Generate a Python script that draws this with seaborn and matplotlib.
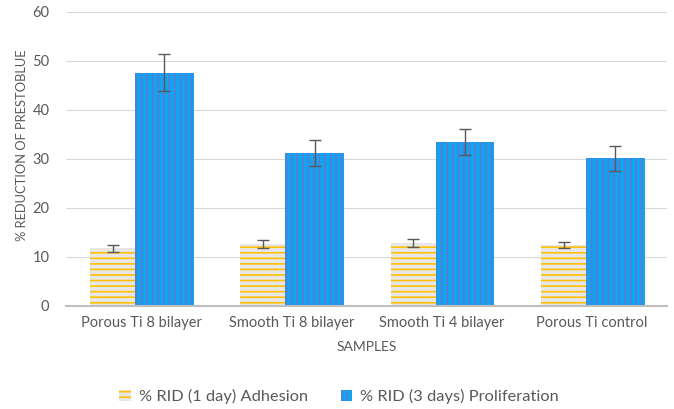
import matplotlib
matplotlib.use("Agg")
import matplotlib.pyplot as plt
import seaborn as sns
import pandas as pd
import numpy as np
from matplotlib.patches import Patch

samples = ["Porous Ti 8 bilayer", "Smooth Ti 8 bilayer", "Smooth Ti 4 bilayer", "Porous Ti control"]
series = ["% RID (1 day) Adhesion", "% RID (3 days) Proliferation"]
adhesion = [11.8, 12.7, 12.9, 12.4]
adhesion_err = [0.7, 0.8, 0.8, 0.6]
prolif = [47.6, 31.2, 33.4, 30.1]
prolif_err = [3.8, 2.6, 2.6, 2.5]

df = pd.DataFrame({
    "sample": samples * 2,
    "series": [series[0]] * 4 + [series[1]] * 4,
    "value": adhesion + prolif,
})

sns.set_theme(style="white")
plt.rcParams['font.family'] = ['Lato', 'DejaVu Sans']
plt.rcParams['hatch.linewidth'] = 1.2

fig = plt.figure(figsize=(6.74, 4.09), dpi=100)
ax = fig.add_axes([0.098, 0.252, 0.892, 0.719])

face = {series[0]: "#e7e7e7", series[1]: "#0ea6f0"}
sns.barplot(data=df, x="sample", y="value", hue="series", palette=face,
            errorbar=None, width=0.8, ax=ax, legend=False, saturation=1)

hatch_col = ["#ffc000", "#5f78d2"]
hatches = ["---", "|||"]
bars = ax.patches
errs = [adhesion_err, prolif_err]
vals = [adhesion, prolif]
for s in range(2):
    for i in range(4):
        p = bars[s * 4 + i]
        x = p.get_x()
        if s == 0:
            p.set_x(x + 0.06)
            p.set_width(0.30)
        else:
            p.set_x(x - 0.04)
            p.set_width(0.39)
        p.set_edgecolor(hatch_col[s])
        p.set_linewidth(0)
        p.set_hatch(hatches[s])
        cx = p.get_x() + p.get_width() / 2
        ax.errorbar(cx, vals[s][i], yerr=errs[s][i], color="#595959",
                    elinewidth=1, capsize=4, capthick=1, zorder=5)

ax.set_ylim(0, 60)
ax.set_yticks(range(0, 61, 10))
ax.set_xlim(-0.5, 3.5)
ax.grid(axis="y", color="#d9d9d9", linewidth=0.8)
ax.set_axisbelow(True)
for sp in ["top", "right", "left"]:
    ax.spines[sp].set_visible(False)
ax.spines["bottom"].set_color("#bfbfbf")
ax.spines["bottom"].set_linewidth(1.5)
ax.tick_params(axis="x", length=0, labelsize=10.5, labelcolor="#595959", pad=7)
ax.tick_params(axis="y", length=0, labelsize=10.5, labelcolor="#595959", pad=12)
ax.set_xlabel("SAMPLES", fontsize=10, color="#595959", labelpad=8)
ax.set_ylabel("% REDUCTION OF PRESTOBLUE", fontsize=9.3, color="#595959")
ax.yaxis.set_label_coords(-0.064, 0.545)

handles = [Patch(facecolor=face[series[0]], edgecolor=hatch_col[0], hatch="---", linewidth=0),
           Patch(facecolor=face[series[1]], edgecolor=hatch_col[1], hatch="|||", linewidth=0)]
fig.legend(handles, series, loc="center", bbox_to_anchor=(0.503, 0.03), ncol=2,
           frameon=False, fontsize=11.8, labelcolor="#595959", handlelength=0.7,
           handleheight=0.7, columnspacing=2.0, handletextpad=0.5)

fig.savefig("out.png", dpi=100)
